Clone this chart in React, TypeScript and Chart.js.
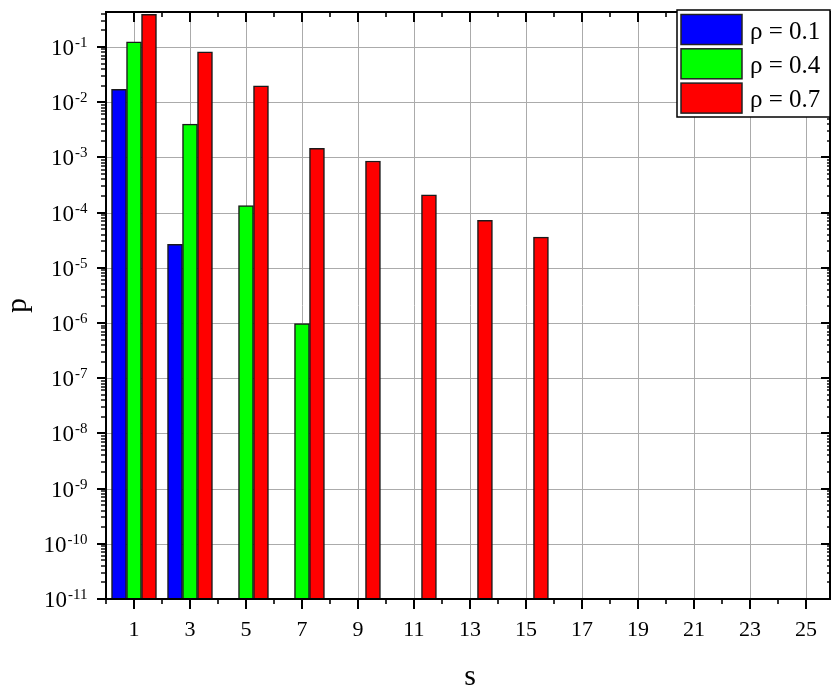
import React, { useEffect, useRef } from "react";
import { Chart, registerables } from "chart.js";

Chart.register(...registerables);

// ---- data ----
const sValues = [1, 3, 5, 7, 9, 11, 13, 15];
const rho01 = [0.0171, 2.67e-5, null, null, null, null, null, null];
const rho04 = [0.124, 0.004, 1.34e-4, 9.8e-7, null, null, null, null];
const rho07 = [0.39, 0.0818, 0.0198, 1.46e-3, 8.6e-4, 2.1e-4, 7.2e-5, 3.6e-5];
const seriesLabels = ["ρ = 0.1", "ρ = 0.4", "ρ = 0.7"];
const seriesColors = ["#0000ff", "#00ff00", "#ff0000"];
const xTickLabels = [1, 3, 5, 7, 9, 11, 13, 15, 17, 19, 21, 23, 25];
const yDecadeExponents = [-11, -10, -9, -8, -7, -6, -5, -4, -3, -2, -1];
const xTitle = "s";
const yTitle = "p";

const X_MIN = 0;
const X_MAX = 25.86;
const Y_MIN = 1e-11;
const Y_MAX = 0.43;
const FONT = "'Liberation Serif', 'Times New Roman', serif";

const toPoints = (vals: (number | null)[]) =>
  sValues.map((s, i) => ({ x: s, y: vals[i] }));

const line = (ctx: CanvasRenderingContext2D, x1: number, y1: number, x2: number, y2: number) => {
  ctx.beginPath();
  ctx.moveTo(x1, y1);
  ctx.lineTo(x2, y2);
  ctx.stroke();
};

const minorYValues = () => {
  const out: { v: number; major: boolean }[] = [];
  for (const k of yDecadeExponents) {
    for (let m = 1; m <= 9; m++) {
      const v = m * Math.pow(10, k);
      if (v >= Y_MIN * 0.999 && v <= Y_MAX) out.push({ v, major: m === 1 });
    }
  }
  return out;
};

const gridPlugin = {
  id: "customGrid",
  beforeDatasetsDraw(chart: any) {
    const { ctx, chartArea: a, scales } = chart;
    const x = scales.x;
    const y = scales.y;
    ctx.save();
    ctx.strokeStyle = "#ababab";
    ctx.lineWidth = 1;
    for (const v of xTickLabels) {
      const px = Math.round(x.getPixelForValue(v)) + 0.5;
      line(ctx, px, a.top, px, a.bottom);
    }
    for (const k of yDecadeExponents) {
      const py = Math.round(y.getPixelForValue(Math.pow(10, k))) + 0.5;
      line(ctx, a.left, py, a.right, py);
    }
    ctx.restore();
  },
};

const framePlugin = {
  id: "frameTicks",
  afterDatasetsDraw(chart: any) {
    const { ctx, chartArea: a, scales } = chart;
    const x = scales.x;
    const y = scales.y;
    ctx.save();
    ctx.strokeStyle = "#000";
    // x ticks (bottom outward, top inward)
    for (let v = 0; v <= 25; v++) {
      const px = Math.round(x.getPixelForValue(v));
      const major = v % 2 === 1;
      const len = major ? 10 : 5;
      ctx.lineWidth = major ? 2 : 1.6;
      line(ctx, px, a.bottom, px, a.bottom + len);
      line(ctx, px, a.top, px, a.top + len);
    }
    // y ticks (left outward, right inward)
    for (const t of minorYValues()) {
      const py = Math.round(y.getPixelForValue(t.v));
      ctx.lineWidth = t.major ? 2 : 1.4;
      const lenL = t.major ? 9 : 5;
      const lenR = t.major ? 9 : 3;
      line(ctx, a.left - lenL, py, a.left, py);
      line(ctx, a.right - lenR, py, a.right, py);
    }
    // frame
    ctx.lineWidth = 2;
    ctx.strokeRect(a.left, a.top, a.right - a.left, a.bottom - a.top);

    // y tick labels with superscript exponents
    ctx.fillStyle = "#000";
    ctx.textBaseline = "alphabetic";
    ctx.textAlign = "left";
    const right = a.left - 18.5;
    for (const k of yDecadeExponents) {
      const py = y.getPixelForValue(Math.pow(10, k));
      const sup = "-" + String(Math.abs(k));
      ctx.font = `15px ${FONT}`;
      const wSup = ctx.measureText(sup).width;
      ctx.font = `23px ${FONT}`;
      const wBase = ctx.measureText("10").width;
      ctx.fillText("10", right - wSup - wBase - 1, py + 8);
      ctx.font = `15px ${FONT}`;
      ctx.fillText(sup, right - wSup, py);
    }

    // axis titles
    ctx.font = `30px ${FONT}`;
    ctx.textAlign = "center";
    ctx.fillText(xTitle, (a.left + a.right) / 2 + 2, 685);
    ctx.save();
    ctx.translate(26, (a.top + a.bottom) / 2);
    ctx.rotate(-Math.PI / 2);
    ctx.fillText(yTitle, 0, 0);
    ctx.restore();
    ctx.restore();
  },
};

const legendPlugin = {
  id: "boxLegend",
  afterDraw(chart: any) {
    const { ctx } = chart;
    const left = 677;
    const top = 10;
    const w = 153;
    const h = 107;
    ctx.save();
    ctx.fillStyle = "#fff";
    ctx.fillRect(left, top, w, h);
    ctx.strokeStyle = "#000";
    ctx.lineWidth = 1.5;
    ctx.strokeRect(left, top, w, h);
    chart.data.datasets.forEach((ds: any, i: number) => {
      const cy = 29.5 + i * 34.3;
      ctx.fillStyle = ds.backgroundColor;
      ctx.fillRect(681, cy - 15, 61, 30);
      ctx.strokeStyle = "#222";
      ctx.lineWidth = 1.5;
      ctx.strokeRect(681, cy - 15, 61, 30);
      ctx.fillStyle = "#000";
      ctx.font = `25px ${FONT}`;
      ctx.textAlign = "left";
      ctx.textBaseline = "alphabetic";
      ctx.fillText(ds.label, 750, cy + 9);
    });
    ctx.restore();
  },
};

export default function App() {
  const ref = useRef<HTMLCanvasElement | null>(null);
  useEffect(() => {
    if (!ref.current) return;
    const seriesData = [rho01, rho04, rho07];
    const chart = new Chart(ref.current, {
      type: "bar",
      data: {
        datasets: seriesData.map((vals, i) => ({
          label: seriesLabels[i],
          data: toPoints(vals) as any,
          backgroundColor: seriesColors[i],
          borderColor: "#1a1a1a",
          borderWidth: 1.5,
          barThickness: 15,
        })),
      },
      options: {
        responsive: false,
        animation: false,
        layout: { padding: { top: 12, right: 1, left: 0, bottom: 0 } },
        plugins: {
          legend: { display: false },
          tooltip: { enabled: false },
          title: { display: false },
        },
        scales: {
          x: {
            type: "linear",
            offset: false,
            min: X_MIN,
            max: X_MAX,
            grid: { display: false, drawTicks: false, offset: false },
            border: { display: false },
            ticks: {
              stepSize: 1,
              includeBounds: false,
              autoSkip: false,
              maxRotation: 0,
              padding: 18,
              color: "#000",
              font: { family: FONT, size: 22 },
              callback: (v: any) => (xTickLabels.includes(Number(v)) ? String(v) : ""),
            },
            afterFit: (s: any) => {
              s.height = 89;
              s.paddingLeft = 0;
              s.paddingRight = 0;
            },
          },
          y: {
            type: "logarithmic",
            min: Y_MIN,
            max: Y_MAX,
            grid: { display: false },
            border: { display: false },
            ticks: { display: false },
            afterFit: (s: any) => {
              s.width = 106;
              s.paddingTop = 0;
              s.paddingBottom = 0;
            },
          },
        },
      },
      plugins: [gridPlugin, framePlugin, legendPlugin],
    });
    return () => chart.destroy();
  }, []);
  return (
    <div style={{ position: "fixed", left: 0, top: 0, width: 831, height: 688, background: "#fff" }}>
      <canvas ref={ref} width={831} height={688} style={{ display: "block" }} />
    </div>
  );
}
